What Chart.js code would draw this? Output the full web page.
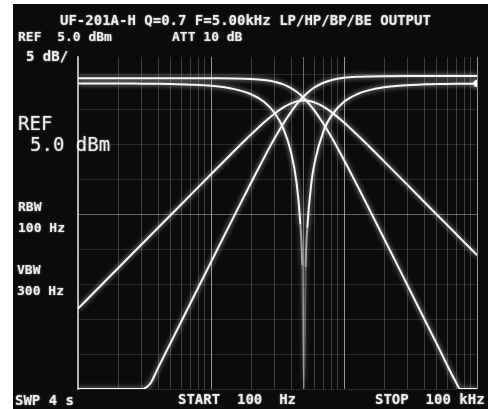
<!DOCTYPE html>
<html>
<head>
<meta charset="utf-8">
<script src="https://cdn.jsdelivr.net/npm/chart.js@4/dist/chart.umd.min.js"></script>
<style>
html,body{margin:0;padding:0;background:#ffffff;}
canvas{display:block;}
</style>
</head>
<body>
<canvas id="c" width="499" height="409"></canvas>
<script>
// Sweep frequencies (Hz) read along the log axis 100 Hz .. 100 kHz
const FREQ_HZ = [100,150,200,300,350,400,500,700,1000,1500,2000,2500,3000,3500,4000,4400,4700,4850,5000,5150,5300,5700,6000,7000,8000,10000,12500,15000,20000,30000,40000,50000,70000,75000,100000];

// Trace levels (dBm); -45 dBm is the bottom of the display
const LOWPASS_DBM  = [-0.6,-0.6,-0.6,-0.6,-0.6,-0.6,-0.6,-0.6,-0.61,-0.63,-0.70,-0.85,-1.10,-1.49,-2.02,-2.54,-2.98,-3.22,-3.46,-3.71,-3.97,-4.68,-5.23,-7.11,-8.94,-12.29,-15.83,-18.78,-23.49,-30.17,-34.92,-38.6,-44.15,-45,-45];
const HIGHPASS_DBM = [-45,-45,-45,-45,-44.2,-41.98,-38.3,-32.75,-26.87,-20.20,-15.53,-11.99,-9.23,-7.07,-5.40,-4.35,-3.70,-3.42,-3.16,-2.92,-2.71,-2.22,-1.92,-1.25,-0.89,-0.55,-0.40,-0.35,-0.32,-0.3,-0.3,-0.3,-0.3,-0.3,-0.3];
const BANDPASS_DBM = [-33.52,-30.14,-27.74,-24.36,-23.08,-21.96,-20.10,-17.30,-14.33,-10.97,-8.65,-6.93,-5.67,-4.77,-4.19,-3.92,-3.82,-3.80,-3.79,-3.80,-3.82,-3.93,-4.06,-4.67,-5.41,-6.93,-8.65,-10.11,-12.48,-15.84,-18.24,-20.10,-22.90,-23.48,-25.88];
const BANDELIM_DBM = [-1.35,-1.36,-1.36,-1.38,-1.39,-1.40,-1.43,-1.52,-1.69,-2.16,-2.89,-3.97,-5.53,-7.79,-11.20,-15.57,-21.48,-27.31,-45,-27.56,-21.97,-15.38,-12.76,-8.19,-6.02,-3.97,-2.89,-2.37,-1.90,-1.59,-1.48,-1.43,-1.39,-1.39,-1.37];

// Graticule
const X_GRID_HZ = [100,200,300,400,500,600,700,800,900,1000,2000,3000,4000,5000,6000,7000,8000,9000,10000,20000,30000,40000,50000,60000,70000,80000,90000,100000];
const Y_GRID_DBM = [-45,-40,-35,-30,-25,-20,-15,-10,-5,0];
const Y_MIN_DBM = -45;
const Y_MAX_DBM = 2.43;

const SCREEN_TEXT = {
  title: 'UF-201A-H Q=0.7 F=5.00kHz LP/HP/BP/BE OUTPUT',
  ref: 'REF  5.0 dBm',
  att: 'ATT 10 dB',
  scale: '5 dB/',
  bigRef: 'REF',
  bigRefVal: '5.0 dBm',
  rbw: 'RBW',
  rbwVal: '100 Hz',
  vbw: 'VBW',
  vbwVal: '300 Hz',
  swp: 'SWP 4 s',
  start: 'START  100  Hz',
  stop: 'STOP  100 kHz'
};

const pts = arr => FREQ_HZ.map((f, i) => ({x: f, y: arr[i]}));

const screenPlugin = {
  id: 'screen',
  beforeDraw(chart) {
    const ctx = chart.ctx;
    ctx.save();
    ctx.fillStyle = '#ffffff';
    ctx.fillRect(0, 0, chart.width, chart.height);
    ctx.fillStyle = '#0b0b0b';
    ctx.fillRect(13, 4, 475, 405);
    ctx.restore();
  },
  beforeDatasetsDraw(chart) {
    const ctx = chart.ctx;
    ctx.save();
    ctx.shadowColor = 'rgba(255,255,255,0.75)';
    ctx.shadowBlur = 5;
  },
  afterDatasetsDraw(chart) {
    chart.ctx.restore();
  },
  afterDraw(chart) {
    const ctx = chart.ctx;
    const T = SCREEN_TEXT;
    ctx.save();
    ctx.fillStyle = '#ececec';
    ctx.shadowColor = 'rgba(255,255,255,0.6)';
    ctx.shadowBlur = 2;
    ctx.textBaseline = 'middle';
    ctx.textAlign = 'left';
    const mono = (px, w) => (w || 'bold') + ' ' + px + 'px "DejaVu Sans Mono", monospace';
    ctx.font = mono(14);
    ctx.fillText(T.title, 60, 21);
    ctx.font = mono(13);
    ctx.fillText(T.ref, 18, 38);
    ctx.fillText(T.att, 172, 38);
    ctx.font = mono(14);
    ctx.fillText(T.scale, 26, 57);
    ctx.font = mono(19, 'normal');
    ctx.fillText(T.bigRef, 18, 125);
    ctx.fillText(T.bigRefVal, 30, 146);
    ctx.font = mono(13);
    ctx.fillText(T.rbw, 18, 208);
    ctx.fillText(T.rbwVal, 18, 229);
    ctx.fillText(T.vbw, 17, 271);
    ctx.fillText(T.vbwVal, 17, 292);
    ctx.font = mono(14);
    ctx.fillText(T.swp, 15, 401);
    ctx.fillText(T.start, 178, 400);
    ctx.fillText(T.stop, 375, 400);
    ctx.restore();
  }
};

const traceColor = '#f6f6f6';

new Chart(document.getElementById('c'), {
  type: 'line',
  data: {
    datasets: [
      { label: 'LP', data: pts(LOWPASS_DBM), borderColor: traceColor },
      { label: 'HP', data: pts(HIGHPASS_DBM), borderColor: traceColor },
      { label: 'BP', data: pts(BANDPASS_DBM), borderColor: traceColor },
      { label: 'BE', data: pts(BANDELIM_DBM), borderColor: traceColor,
        segment: {
          borderColor: c => (c.p0.parsed.y < -29 || c.p1.parsed.y < -29) ? 'rgba(235,235,235,0.3)'
            : ((c.p0.parsed.y < -25 || c.p1.parsed.y < -25) ? 'rgba(240,240,240,0.6)' : undefined)
        },
        pointRadius: c => c.dataIndex === FREQ_HZ.length - 1 ? 3.5 : 0,
        pointBackgroundColor: '#ffffff',
        pointBorderWidth: 0
      }
    ]
  },
  options: {
    responsive: false,
    animation: false,
    devicePixelRatio: 1,
    layout: { padding: { left: 78, right: 22, top: 57, bottom: 20 } },
    plugins: { legend: { display: false }, tooltip: { enabled: false }, title: { display: false } },
    elements: {
      point: { radius: 0 },
      line: { borderWidth: 2, cubicInterpolationMode: 'monotone', fill: false }
    },
    scales: {
      x: {
        type: 'logarithmic',
        min: FREQ_HZ[0],
        max: FREQ_HZ[FREQ_HZ.length - 1],
        afterBuildTicks: s => { s.ticks = X_GRID_HZ.map(v => ({ value: v })); },
        ticks: { display: false },
        grid: {
          drawTicks: false,
          lineWidth: 1,
          color: c => {
            const v = c.tick ? c.tick.value : 0;
            const lg = Math.log10(v);
            if (Math.abs(lg - Math.round(lg)) < 1e-6) return 'rgba(235,235,235,0.62)';
            if (v === 5000) return 'rgba(225,225,225,0.45)';
            return 'rgba(200,200,200,0.27)';
          }
        },
        border: { display: false }
      },
      y: {
        type: 'linear',
        min: Y_MIN_DBM,
        max: Y_MAX_DBM,
        afterBuildTicks: s => { s.ticks = Y_GRID_DBM.map(v => ({ value: v })); },
        ticks: { display: false },
        grid: {
          drawTicks: false,
          lineWidth: 1,
          color: c => {
            const v = c.tick ? c.tick.value : 0;
            if (v === -20) return 'rgba(220,220,220,0.42)';
            return 'rgba(190,190,190,0.17)';
          }
        },
        border: { display: true, color: 'rgba(235,235,235,0.75)', width: 1.5 }
      }
    }
  },
  plugins: [screenPlugin]
});
</script>
</body>
</html>
